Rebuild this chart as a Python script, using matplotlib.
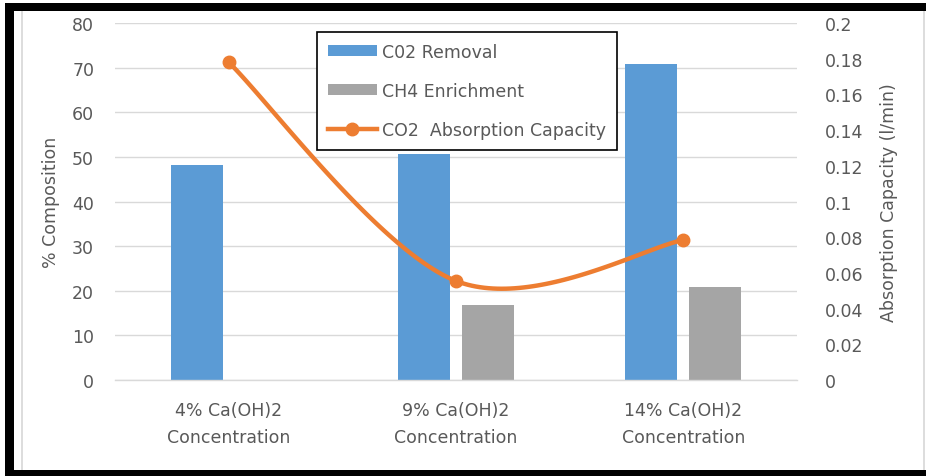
import numpy as np
import matplotlib
matplotlib.use("Agg")
import matplotlib.pyplot as plt
from matplotlib.patches import Patch, Rectangle
from matplotlib.lines import Line2D

# Data
categories = ["4% Ca(OH)2\nConcentration", "9% Ca(OH)2\nConcentration", "14% Ca(OH)2\nConcentration"]
co2_removal = [48.2, 50.7, 70.9]
ch4_enrichment = [np.nan, 16.8, 20.9]
absorption_capacity = [0.178, 0.0555, 0.0784]
right_tick_labels = ["0", "0.02", "0.04", "0.06", "0.08", "0.1", "0.12", "0.14", "0.16", "0.18", "0.2"]

BLUE = "#5B9BD5"
GRAY = "#A5A5A5"
ORANGE = "#ED7D31"
TEXT = "#595959"
GRID = "#D9D9D9"

plt.rcParams["font.family"] = ["DejaVu Sans"]
FS = 12.5

W, H = 926, 477
fig = plt.figure(figsize=(W / 100, H / 100), dpi=100)


def px(x0, y0, x1, y1):
    """Pixel box (from top-left) to figure-fraction rectangle."""
    return [x0 / W, 1 - y1 / H, (x1 - x0) / W, (y1 - y0) / H]


ax = fig.add_axes(px(115, 24, 797, 381))
ax2 = ax.twinx()

x = np.arange(len(categories))
bw = 0.229
off = 0.141
ax.bar(x - off, co2_removal, bw, color=BLUE, zorder=2)
ax.bar(x + off, ch4_enrichment, bw, color=GRAY, zorder=2)

ax.set_xlim(-0.5, 2.5)
ax.set_ylim(0, 80)
ax.set_yticks(np.arange(0, 81, 10))
ax.yaxis.grid(True, color=GRID, lw=1, zorder=0)
ax.set_axisbelow(True)
ax.set_xticks(x)
ax.set_xticklabels(categories, color=TEXT, fontsize=FS, linespacing=1.65)
ax.tick_params(axis="x", length=0, pad=15)
ax.tick_params(axis="y", length=0, pad=15, labelsize=FS, labelcolor=TEXT)
for s in ["top", "right", "left"]:
    ax.spines[s].set_visible(False)
ax.spines["bottom"].set_color(GRID)
ax.spines["bottom"].set_linewidth(1)
ax.set_ylabel("% Composition", color=TEXT, fontsize=FS, labelpad=9)

# Smoothed line through the capacity points (cubic Bezier segments)
px_pts = np.array(x, dtype=float)
py_pts = np.array(absorption_capacity, dtype=float)
n = len(px_pts)
cx, cy = [], []
t = np.linspace(0, 1, 60)
for i in range(n - 1):
    im1 = max(i - 1, 0)
    ip2 = min(i + 2, n - 1)
    p0 = np.array([px_pts[i], py_pts[i]])
    p3 = np.array([px_pts[i + 1], py_pts[i + 1]])
    c1 = p0 + (np.array([px_pts[i + 1], py_pts[i + 1]]) - np.array([px_pts[im1], py_pts[im1]])) / 6
    c2 = p3 - (np.array([px_pts[ip2], py_pts[ip2]]) - np.array([px_pts[i], py_pts[i]])) / 6
    b = ((1 - t) ** 3)[:, None] * p0 + (3 * (1 - t) ** 2 * t)[:, None] * c1 \
        + (3 * (1 - t) * t ** 2)[:, None] * c2 + (t ** 3)[:, None] * p3
    cx.extend(b[:, 0])
    cy.extend(b[:, 1])
ax2.plot(cx, cy, color=ORANGE, lw=3.2, solid_capstyle="round", zorder=3)
ax2.plot(px_pts, py_pts, "o", color=ORANGE, ms=9, zorder=4)

ax2.set_ylim(0, 0.2)
ax2.set_yticks(np.round(np.arange(0, 0.201, 0.02), 2))
ax2.set_yticklabels(right_tick_labels)
ax2.tick_params(axis="y", length=0, pad=20, labelsize=FS, labelcolor=TEXT)
for s in ax2.spines.values():
    s.set_visible(False)
ax2.set_ylabel("Absorption Capacity (l/min)", color=TEXT, fontsize=FS, labelpad=12)

handles = [
    Patch(facecolor=BLUE, edgecolor="none"),
    Patch(facecolor=GRAY, edgecolor="none"),
    Line2D([0], [0], color=ORANGE, lw=3.2, marker="o", ms=9),
]
labels = ["C02 Removal", "CH4 Enrichment", "CO2  Absorption Capacity"]
leg = ax2.legend(handles, labels, loc="upper left", bbox_to_anchor=(0.296, 0.976),
                 fontsize=FS, frameon=True, fancybox=False, framealpha=1,
                 edgecolor="black", handlelength=2.8, handleheight=0.6,
                 handletextpad=0.3, labelspacing=1.2, borderpad=0.65,
                 borderaxespad=0, numpoints=1)
leg.get_frame().set_linewidth(1.2)
for txt in leg.get_texts():
    txt.set_color(TEXT)


def block(x0, y0, x1, y1, color):
    r = px(x0, y0, x1, y1)
    fig.add_artist(Rectangle((r[0], r[1]), r[2], r[3], transform=fig.transFigure,
                             color=color, lw=0))


# Outer frame
block(5, 4, 14, 477, "black")
block(5, 4, 926, 12, "black")
block(5, 471, 926, 477, "black")
block(21, 12, 23, 471, "#DDDDDD")
block(923, 12, 925, 471, "#DDDDDD")

fig.savefig("out.png", dpi=100)
